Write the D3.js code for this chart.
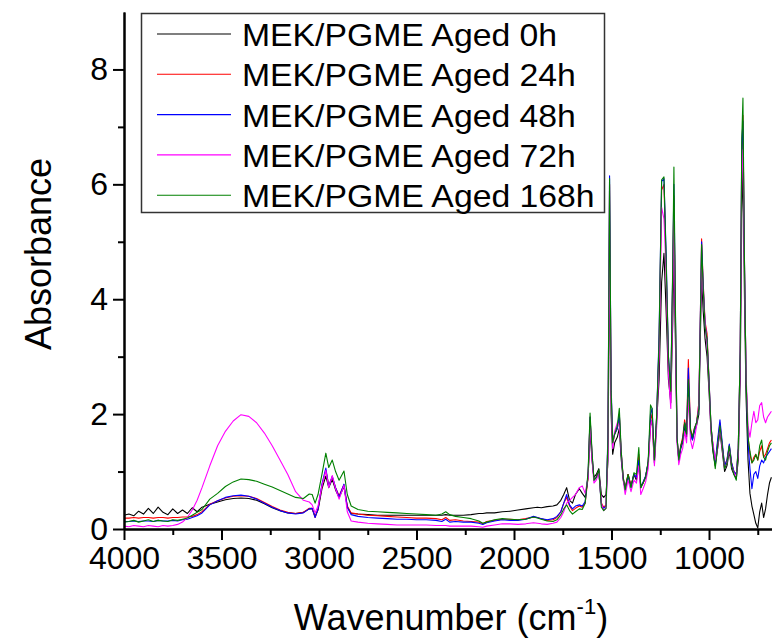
<!DOCTYPE html>
<html>
<head>
<meta charset="utf-8">
<script src="https://cdn.jsdelivr.net/npm/d3@7"></script>
<style>
  body { margin: 0; background: #fff; }
  svg text { font-family: "Liberation Sans", Arial, sans-serif; fill: #000; }
</style>
</head>
<body>
<script>
// wavenumbers shared by all spectra (cm-1)
var wavenumbers = [4000, 3975, 3950, 3925, 3900, 3875, 3850, 3825, 3800, 3775, 3750, 3725, 3700, 3675, 3650, 3625, 3600,
  3560, 3520, 3480, 3440, 3400, 3360, 3320, 3280, 3240, 3200, 3160, 3120, 3080, 3050, 3035, 3020, 3005,
  2985, 2965, 2950, 2932, 2915, 2897, 2872, 2855, 2835,
  2800, 2750, 2700, 2650, 2600, 2550, 2500, 2450, 2400, 2370, 2350, 2330, 2300, 2260, 2220, 2180, 2160, 2140, 2100, 2060, 2020, 1980, 1940, 1900, 1880, 1860, 1830, 1800, 1780,
  1760, 1745, 1730, 1715, 1700, 1685, 1665, 1650, 1635, 1620, 1610, 1600, 1590, 1578, 1565, 1552, 1540, 1528, 1518, 1510, 1502, 1494, 1484, 1470, 1460, 1450,
  1440, 1430, 1415, 1400, 1385, 1372, 1360, 1350, 1338, 1325, 1312, 1300, 1292, 1280, 1268, 1256, 1243, 1231, 1220, 1208,
  1196, 1186, 1180, 1172, 1164, 1155, 1145, 1135, 1125, 1115, 1106, 1095, 1085, 1075, 1064, 1052, 1044, 1038, 1030, 1020,
  1010, 1000, 990, 980, 968, 956, 944, 932, 920, 908, 896, 884, 872, 860, 850, 840, 832, 826, 818, 810,
  800, 790, 780, 770, 760, 750, 740, 730, 720, 710, 700, 690, 680];

var aged0 = [0.24, 0.26, 0.23, 0.31, 0.26, 0.36, 0.27, 0.38, 0.29, 0.25, 0.35, 0.27, 0.33, 0.27, 0.37, 0.30, 0.38,
  0.43, 0.47, 0.51, 0.53, 0.54, 0.53, 0.50, 0.44, 0.37, 0.32, 0.28, 0.27, 0.29, 0.35, 0.35, 0.22, 0.33,
  0.70, 0.92, 0.72, 0.86, 0.68, 0.55, 0.74, 0.38, 0.27,
  0.26, 0.25, 0.24, 0.24, 0.24, 0.24, 0.24, 0.24, 0.24, 0.24, 0.25, 0.24, 0.24, 0.24, 0.25, 0.27, 0.27, 0.28, 0.28, 0.30, 0.31, 0.33, 0.35, 0.37, 0.38, 0.37, 0.39, 0.40, 0.42,
  0.50, 0.60, 0.72, 0.50, 0.45, 0.60, 0.70, 0.62, 0.55, 0.90, 1.70, 1.20, 0.90, 0.95, 1.05, 0.60, 0.55, 0.60, 1.20, 4.80, 2.00, 1.30, 1.50, 1.60, 1.75, 1.20,
  0.85, 0.72, 0.95, 0.75, 0.95, 0.85, 1.20, 0.75, 0.80, 0.92, 1.15, 1.80, 1.90, 1.15, 1.90, 2.60, 4.30, 4.80, 3.80, 2.60,
  2.20, 3.60, 4.70, 3.20, 1.55, 1.20, 1.40, 1.50, 1.80, 1.60, 2.40, 1.70, 1.55, 1.70, 1.80, 2.00, 3.40, 4.40, 3.80, 3.30,
  3.00, 2.40, 1.70, 1.35, 1.10, 1.40, 1.70, 1.35, 1.00, 1.10, 1.35, 1.05, 0.95, 0.88, 1.20, 2.60, 5.50, 6.30, 4.00, 2.30,
  1.20, 0.62, 0.40, 0.25, 0.10, 0.02, 0.30, 0.45, 0.20, 0.35, 0.60, 0.80, 0.90];

var aged24 = [0.19, 0.19, 0.20, 0.19, 0.20, 0.20, 0.19, 0.20, 0.20, 0.19, 0.20, 0.20, 0.21, 0.21, 0.22, 0.25, 0.30,
  0.43, 0.49, 0.54, 0.57, 0.58, 0.57, 0.53, 0.46, 0.39, 0.33, 0.29, 0.27, 0.29, 0.36, 0.36, 0.20, 0.35,
  0.75, 1.02, 0.76, 0.90, 0.72, 0.58, 0.77, 0.40, 0.28,
  0.26, 0.24, 0.23, 0.22, 0.21, 0.20, 0.19, 0.19, 0.18, 0.16, 0.20, 0.15, 0.16, 0.14, 0.13, 0.12, 0.09, 0.13, 0.15, 0.17, 0.17, 0.16, 0.18, 0.21, 0.20, 0.18, 0.15, 0.16, 0.20,
  0.30, 0.45, 0.55, 0.40, 0.32, 0.36, 0.40, 0.38, 0.45, 0.90, 1.95, 1.30, 0.85, 0.90, 1.00, 0.45, 0.38, 0.42, 1.60, 6.00, 2.40, 1.50, 1.65, 1.75, 2.00, 1.30,
  0.90, 0.70, 0.95, 0.75, 0.95, 0.90, 1.30, 0.72, 0.80, 0.90, 1.15, 1.90, 2.00, 1.20, 2.00, 3.20, 5.90, 6.00, 4.60, 2.90,
  2.40, 4.40, 5.80, 3.60, 1.60, 1.22, 1.45, 1.60, 1.90, 1.70, 2.95, 1.75, 1.60, 1.75, 1.85, 2.20, 3.80, 5.05, 4.30, 3.60,
  3.40, 2.60, 1.80, 1.45, 1.15, 1.50, 1.85, 1.45, 1.10, 1.20, 1.45, 1.15, 1.00, 0.95, 1.40, 3.10, 6.50, 7.20, 4.60, 2.60,
  1.60, 1.30, 1.15, 1.25, 1.30, 1.20, 1.35, 1.45, 1.25, 1.30, 1.40, 1.50, 1.55];

var aged48 = [0.13, 0.13, 0.14, 0.13, 0.14, 0.14, 0.13, 0.15, 0.14, 0.14, 0.15, 0.14, 0.16, 0.17, 0.20, 0.23, 0.28,
  0.42, 0.49, 0.55, 0.58, 0.59, 0.57, 0.52, 0.45, 0.38, 0.32, 0.28, 0.26, 0.28, 0.35, 0.36, 0.20, 0.35,
  0.78, 1.06, 0.74, 0.92, 0.72, 0.56, 0.78, 0.38, 0.25,
  0.22, 0.20, 0.19, 0.18, 0.17, 0.17, 0.16, 0.16, 0.15, 0.13, 0.17, 0.12, 0.13, 0.12, 0.12, 0.10, 0.08, 0.11, 0.14, 0.16, 0.15, 0.15, 0.17, 0.22, 0.20, 0.18, 0.16, 0.18, 0.22,
  0.30, 0.45, 0.60, 0.42, 0.35, 0.40, 0.42, 0.40, 0.48, 0.95, 1.95, 1.30, 0.85, 0.90, 1.00, 0.42, 0.36, 0.40, 1.70, 6.15, 2.50, 1.55, 1.65, 1.75, 2.00, 1.30,
  0.88, 0.68, 0.92, 0.72, 0.95, 0.90, 1.20, 0.72, 0.82, 0.92, 1.15, 2.00, 2.10, 1.20, 2.00, 3.40, 6.05, 6.10, 4.80, 3.00,
  2.45, 4.50, 6.00, 3.70, 1.60, 1.20, 1.42, 1.55, 1.85, 1.65, 2.80, 1.70, 1.55, 1.72, 1.85, 2.10, 3.80, 5.00, 4.25, 3.55,
  3.30, 2.60, 1.80, 1.45, 1.15, 1.55, 1.90, 1.50, 1.10, 1.20, 1.48, 1.15, 1.00, 0.95, 1.40, 3.10, 6.70, 7.10, 4.60, 2.60,
  1.50, 1.05, 0.70, 0.95, 1.00, 0.88, 1.10, 1.20, 1.15, 1.25, 1.30, 1.35, 1.40];

var aged72 = [0.05, 0.04, 0.06, 0.05, 0.04, 0.06, 0.05, 0.04, 0.06, 0.05, 0.06, 0.08, 0.12, 0.20, 0.33, 0.50, 0.72,
  1.10, 1.45, 1.70, 1.88, 1.99, 1.96, 1.85, 1.67, 1.45, 1.20, 0.95, 0.65, 0.50, 0.47, 0.42, 0.28, 0.40,
  0.75, 1.02, 0.72, 0.93, 0.70, 0.52, 0.76, 0.30, 0.14,
  0.12, 0.10, 0.09, 0.08, 0.07, 0.07, 0.07, 0.07, 0.06, 0.06, 0.06, 0.05, 0.05, 0.05, 0.05, 0.04, 0.03, 0.05, 0.07, 0.09, 0.09, 0.08, 0.09, 0.11, 0.10, 0.09, 0.08, 0.10, 0.12,
  0.20, 0.30, 0.45, 0.50, 0.55, 0.60, 0.72, 0.75, 0.62, 0.90, 1.85, 1.20, 0.80, 0.85, 0.98, 0.45, 0.32, 0.36, 1.30, 5.20, 2.20, 1.40, 1.70, 1.85, 1.80, 1.35,
  0.85, 0.60, 0.85, 0.65, 0.85, 0.80, 1.10, 0.60, 0.70, 0.82, 1.05, 1.80, 1.90, 1.10, 1.80, 3.00, 5.60, 5.40, 4.50, 2.70,
  2.10, 4.00, 5.60, 3.40, 1.50, 1.12, 1.30, 1.40, 1.70, 1.50, 2.30, 1.55, 1.40, 1.55, 1.80, 2.20, 3.60, 4.60, 4.10, 3.60,
  3.20, 2.50, 1.70, 1.50, 1.20, 1.40, 1.75, 1.40, 1.05, 1.15, 1.40, 1.10, 0.98, 0.92, 1.30, 2.90, 6.20, 6.60, 4.40, 2.70,
  1.80, 1.60, 1.85, 2.05, 1.85, 1.90, 2.15, 2.20, 1.95, 1.85, 1.95, 2.00, 2.05];

var aged168 = [0.12, 0.13, 0.15, 0.12, 0.14, 0.16, 0.13, 0.15, 0.14, 0.13, 0.16, 0.15, 0.17, 0.19, 0.24, 0.29, 0.34,
  0.52, 0.62, 0.74, 0.82, 0.87, 0.86, 0.83, 0.78, 0.73, 0.67, 0.61, 0.55, 0.53, 0.61, 0.60, 0.45, 0.60,
  0.95, 1.32, 1.07, 1.20, 1.00, 0.85, 1.01, 0.60, 0.40,
  0.34, 0.31, 0.30, 0.29, 0.28, 0.27, 0.26, 0.25, 0.24, 0.26, 0.30, 0.25, 0.22, 0.20, 0.18, 0.14, 0.10, 0.12, 0.16, 0.18, 0.17, 0.16, 0.17, 0.21, 0.19, 0.17, 0.14, 0.13, 0.16,
  0.25, 0.35, 0.42, 0.32, 0.26, 0.30, 0.35, 0.34, 0.45, 1.00, 2.02, 1.35, 0.85, 0.90, 1.03, 0.38, 0.32, 0.36, 1.60, 6.10, 2.40, 1.50, 1.65, 1.80, 2.10, 1.35,
  0.90, 0.68, 0.95, 0.72, 0.98, 0.95, 1.42, 0.72, 0.80, 0.90, 1.18, 2.16, 2.10, 1.20, 2.00, 3.30, 6.08, 6.13, 4.70, 3.00,
  2.40, 4.60, 6.30, 3.80, 1.60, 1.20, 1.45, 1.55, 1.85, 1.65, 2.60, 1.72, 1.60, 1.75, 1.85, 2.10, 3.70, 4.95, 4.20, 3.50,
  3.30, 2.55, 1.80, 1.40, 1.05, 1.45, 1.80, 1.45, 1.05, 1.15, 1.45, 1.10, 0.95, 0.85, 1.40, 3.10, 6.80, 7.50, 4.60, 2.60,
  1.60, 1.35, 1.15, 1.20, 1.30, 1.20, 1.45, 1.55, 1.25, 1.20, 1.35, 1.45, 1.50];

var seriesNames = ["MEK/PGME Aged 0h", "MEK/PGME Aged 24h", "MEK/PGME Aged 48h", "MEK/PGME Aged 72h", "MEK/PGME Aged 168h"];
var seriesValues = [aged0, aged24, aged48, aged72, aged168];
var seriesColors = ["#000000", "#ff0000", "#0000ff", "#ff00ff", "#008000"];

var xMajorTicks = [4000, 3500, 3000, 2500, 2000, 1500, 1000];
var xMinorTicks = [3750, 3250, 2750, 2250, 1750, 1250, 750];
var yMajorTicks = [0, 2, 4, 6, 8];
var yMinorTicks = [1, 3, 5, 7];

var w = 772, h = 640;
var plotLeft = 124, plotRight = 772, plotTop = 12, plotBottom = 529;

var svg = d3.select("body").append("svg")
  .attr("width", w)
  .attr("height", h);

var x = d3.scaleLinear().domain([4000, 677]).range([plotLeft, plotRight]);
var y = d3.scaleLinear().domain([0, 9]).range([plotBottom, plotTop]);

svg.append("clipPath").attr("id", "plot")
  .append("rect")
  .attr("x", plotLeft).attr("y", plotTop)
  .attr("width", plotRight - plotLeft).attr("height", plotBottom - plotTop);

var line = d3.line()
  .x(function(d){ return x(d[0]); })
  .y(function(d){ return y(d[1]); });

var lines = svg.append("g").attr("clip-path", "url(#plot)");
seriesValues.forEach(function(vals, i){
  lines.append("path")
    .datum(wavenumbers.map(function(wn, j){ return [wn, vals[j]]; }))
    .attr("d", line)
    .attr("fill", "none")
    .attr("stroke", seriesColors[i])
    .attr("stroke-width", 1.1)
    .attr("stroke-linejoin", "round");
});

// axes
svg.append("g")
  .attr("transform", "translate(0," + plotBottom + ")")
  .call(d3.axisBottom(x).tickValues(xMajorTicks).tickSize(11).tickSizeOuter(0).tickPadding(6)
    .tickFormat(d3.format("d")));
svg.append("g")
  .attr("transform", "translate(0," + plotBottom + ")")
  .call(d3.axisBottom(x).tickValues(xMinorTicks).tickSize(6).tickSizeOuter(0).tickFormat(""));

svg.append("g")
  .attr("transform", "translate(" + plotLeft + ",0)")
  .call(d3.axisLeft(y).tickValues(yMajorTicks).tickSize(11).tickSizeOuter(0).tickPadding(5));
svg.append("g")
  .attr("transform", "translate(" + plotLeft + ",0)")
  .call(d3.axisLeft(y).tickValues(yMinorTicks).tickSize(6).tickSizeOuter(0).tickFormat(""));

svg.selectAll(".domain, .tick line")
  .attr("stroke", "#000")
  .attr("stroke-width", 2);
svg.selectAll(".tick text")
  .attr("font-size", 32)
  .attr("font-family", "Liberation Sans, Arial, sans-serif");

// axis titles
svg.append("text")
  .attr("transform", "translate(51,254) rotate(-90)")
  .attr("text-anchor", "middle")
  .attr("font-size", 36)
  .text("Absorbance");

var xt = svg.append("text")
  .attr("x", 451).attr("y", 630)
  .attr("text-anchor", "middle")
  .attr("font-size", 36);
xt.append("tspan").text("Wavenumber (cm");
xt.append("tspan").attr("font-size", 22).attr("dy", -16).text("-1");
xt.append("tspan").attr("dy", 16).text(")");

// legend
var legend = svg.append("g");
legend.append("rect")
  .attr("x", 141.5).attr("y", 13.5)
  .attr("width", 463).attr("height", 199)
  .attr("fill", "#fff")
  .attr("stroke", "#333")
  .attr("stroke-width", 1.5);
seriesNames.forEach(function(name, i){
  var ly = 34 + i * 40.3;
  legend.append("line")
    .attr("x1", 157).attr("x2", 231)
    .attr("y1", ly).attr("y2", ly)
    .attr("stroke", seriesColors[i])
    .attr("stroke-width", 1.1);
  // reference text is a little wider than plain Arial
  legend.append("text")
    .attr("transform", "translate(242," + (ly + 12) + ") scale(1.055,1)")
    .attr("font-size", 32)
    .text(name);
});
</script>
</body>
</html>
